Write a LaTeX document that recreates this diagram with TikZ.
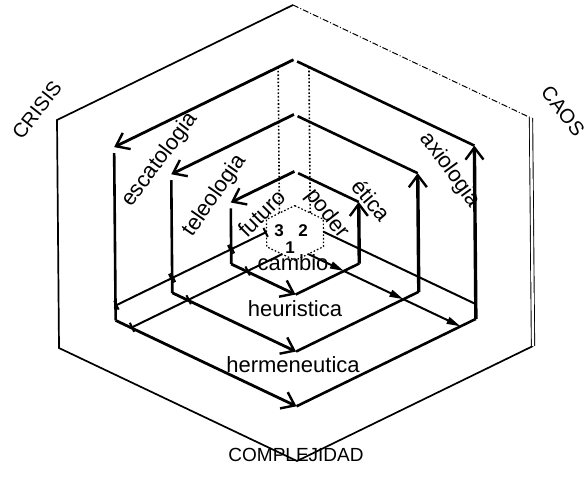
\documentclass[tikz,border=0pt]{standalone}
\usepackage{fontspec}
\setmainfont{Liberation Sans}
\usepackage{tikz}
\usetikzlibrary{arrows.meta,positioning,calc}
\tikzset{
 wall/.style={line width=1.3pt},
 flow/.style={line width=1.4pt,-{Straight Barb[length=6pt,width=9pt,line width=1.2pt]}},
 rail/.style={line width=1pt},
 ghost/.style={line width=.8pt,densely dotted},
 lbl/.style={font=\fontsize{11}{13}\selectfont,inner sep=0pt},
 rimlbl/.style={font=\fontsize{10}{12}\selectfont,inner sep=0pt},
 digit/.style={font=\fontsize{8.5}{10}\selectfont\bfseries,inner sep=0pt}
}
\begin{document}
\begin{tikzpicture}[x=.5pt,y=-.5pt]
\useasboundingbox (0,0) rectangle (587,487);
\begin{scope}[shift={(295,233)},x={(-119pt,56.5pt)},y={(118pt,57.5pt)},z={(1pt,-114pt)}]
\foreach \k/\s in {rim/1,one/0.76,two/0.52,three/0.27,core/0.12}{
 \coordinate (\k-N) at (\s,\s,0);
 \coordinate (\k-NW) at (\s,0,0);
 \coordinate (\k-SW) at (\s,0,\s);
 \coordinate (\k-S) at (0,0,\s);
 \coordinate (\k-SE) at (0,\s,\s);
 \coordinate (\k-NE) at (0,\s,0);
}
\draw[line width=.85pt] (rim-N) -- (rim-NW) -- (rim-SW) -- (rim-S) -- (rim-SE);
\draw[line width=.5pt,densely dash dot] (rim-N) -- (rim-NE);
\draw[line width=.45pt,double distance=1.2pt] (rim-NE) -- (rim-SE);
\foreach \k in {one,two,three}{
 \draw[flow] (\k-N) -- (\k-NW);
 \draw[wall,shorten <=3pt] (\k-NW) -- (\k-SW);
 \draw[flow] (\k-SW) -- (\k-S);
 \draw[wall] (\k-S) -- (\k-SE);
 \draw[flow,line width=1.7pt] (\k-SE) -- (\k-NE);
 \draw[wall,shorten >=2pt] (\k-NE) -- (\k-N);
}
\draw[ghost,line width=.6pt] (core-N) -- (core-NE) -- (core-SE) -- (core-S) -- (core-SW) -- (core-NW) -- cycle;
\foreach \so/\si in {0.76/0.52,0.52/0.27,0.27/0.12}{
 \pgfmathsetmacro\ro{\so-0.065}
 \pgfmathsetmacro\ri{\si-0.065}
 \draw[ghost] (\so,\ro,0) -- (\si,\ri,0);
 \draw[ghost] (\ro,\so,0) -- (\ri,\si,0);
 \draw[rail,{Bar[width=5pt]}-{Bar[width=5pt]}] (\so,0,\ro) -- (\si,0,\ri);
 \draw[rail,{Bar[width=5pt]}-] (\ro,0,\so) -- (\ri,0,\si);
 \draw[rail] (0,\so,\ro) -- (0,\si,\ri);
 \draw[rail,-{Triangle[length=7pt,width=3.5pt]}] (0,\ri,\si) -- (0,\ro,\so);
}
\end{scope}
\node[rimlbl,rotate=52] (crisis) at (37,110) {CRISIS};
\node[rimlbl,rotate=-52] (caos) at (563,111) {CAOS};
\node[rimlbl,font=\fontsize{9.5}{11}\selectfont] (compl) at (296,455) {COMPLEJIDAD};
\node[lbl,rotate=53] (esc) at (160,160) {escatologia};
\node[lbl,rotate=55] (tel) at (215,196) {teleologia};
\node[lbl,rotate=45] (fut) at (262,213) {futuro};
\node[lbl,rotate=-52] (pod) at (327,214) {poder};
\node[lbl,rotate=-50] (eti) at (372,200) {ética};
\node[lbl,rotate=-54] (axi) at (450,170) {axiologia};
\node[lbl] (cam) at (293,263) {cambio};
\node[lbl] (heu) at (295,309) {heuristica};
\node[lbl] (her) at (293,365) {hermeneutica};
\node[digit] (n3) at (279,231) {3};
\node[digit] (n2) at (303,231) {2};
\node[digit] (n1) at (290,248) {1};
\end{tikzpicture}
\end{document}
